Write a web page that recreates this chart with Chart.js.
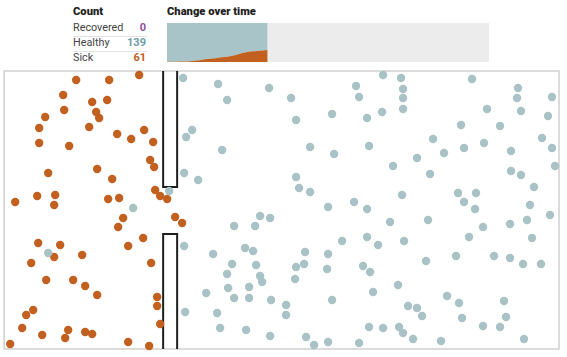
<!DOCTYPE html>
<html><head><meta charset="utf-8">
<script src="https://cdn.jsdelivr.net/npm/chart.js@4/dist/chart.umd.min.js"></script>
<style>
html,body{margin:0;padding:0;background:#fff;width:567px;height:357px;overflow:hidden;font-family:"Roboto","Noto Sans",sans-serif;}
.h{position:absolute;font-weight:900;font-size:11.2px;color:#222;}
.lab{position:absolute;left:73px;font-size:10.8px;color:#444;}
.num{position:absolute;right:421px;font-size:11px;font-weight:700;text-align:right;}
.sep{position:absolute;left:73px;width:74px;height:1px;background:#e2e2e2;}
#mini{position:absolute;left:167px;top:23px;width:322px;height:39px;}
#main{position:absolute;left:0px;top:66px;width:567px;height:291px;}
</style></head><body>
<div class="h" style="left:73px;top:5px;">Count</div>
<div class="h" style="left:167px;top:5px;">Change over time</div>
<div class="lab" style="top:21px;">Recovered</div>
<div class="lab" style="top:36px;">Healthy</div>
<div class="lab" style="top:51px;">Sick</div>
<div class="sep" style="top:36px;"></div>
<div class="sep" style="top:51px;"></div>
<div class="num" id="nRec" style="top:21px;color:#8e4e9e;"></div>
<div class="num" id="nHea" style="top:36px;color:#6b9ea7;"></div>
<div class="num" id="nSick" style="top:51px;color:#c1601c;"></div>
<div id="mini"><canvas id="c1"></canvas></div>
<div id="main"><canvas id="c2"></canvas></div>
<script>
// ---- data ----
const population = 200;
const timeMax = 320;
const timeSteps = [0,5,10,15,20,25,30,35,40,45,50,55,60,65,70,75,80,85,90,95,100];
const sickOverTime = [1,1,1,2,3,5,8,12,15,18,21,24,27,32,39,46,51,55,57,59,61];
const recoveredOverTime = [0,0,0,0,0,0,0,0,0,0,0,0,0,0,0,0,0,0,0,0,0];
const countRecovered = 0, countHealthy = 139, countSick = 61;

const sickX = [76,109,139,63,92,107,64,96,99,45,39,89,117,131,144,39,69,153,150,154,48,97,112,155,160,167,37,55,54,15,108,119,
  123,118,175,182,143,128,38,60,54,82,31,151,46,73,85,97,157,157,33,26,160,22,42,68,85,92,65,10,128,149];
const sickY = [80,80,75,95,102,100,110,112,118,117,128,127,134,139,130,143,146,142,160,167,173,169,179,190,196,199,196,195,205,202,199,198,
  218,227,217,223,238,246,243,245,257,255,263,263,280,280,286,295,297,306,310,315,324,328,335,330,332,334,338,344,342,346];
const healthyX = [183,192,186,184,198,169,133,48,184,185,
  218,227,269,291,356,359,296,332,367,222,310,334,369,296,299,310,328,354,367,
  260,270,234,255,245,253,213,305,328,342,367,232,256,296,304,327,363,370,227,260,262,295,228,249,206,234,249,271,332,286,286,217,220,246,270,306,314,328,359,369,
  383,401,403,403,403,382,472,518,517,552,521,487,548,461,500,433,484,464,444,417,511,542,552,393,430,511,521,555,534,402,458,476,464,475,530,
  390,428,483,510,527,550,469,532,378,404,426,456,494,510,523,541,398,373,447,459,504,408,417,422,462,506,383,399,403,413,441,483,500,524];
const healthyY = [78,130,137,173,180,191,208,253,246,312,
  84,100,88,98,86,97,120,114,118,150,147,154,146,177,188,192,207,202,209,
  216,218,226,226,248,251,254,252,254,241,237,264,265,267,264,269,266,272,274,276,282,279,288,287,293,298,298,300,300,305,315,313,328,330,336,337,345,342,343,327,
  75,78,89,98,109,112,79,88,98,97,111,109,116,125,126,139,143,148,153,158,151,138,148,166,174,171,175,166,187,195,193,193,202,209,205,
  222,220,227,224,220,215,237,238,245,241,261,256,256,258,264,264,285,292,296,303,301,306,308,316,318,317,328,327,333,339,341,326,327,339];
// wall outline (top segment open to frame top, bottom segment open to frame bottom)
const wallTopX = [163,163,177,177], wallTopY = [71,187,187,71];
const wallBotX = [163,163,177,177], wallBotY = [349,234,234,349];
const boxX = [4,559], boxY = [71,349];

document.getElementById('nRec').textContent = countRecovered;
document.getElementById('nHea').textContent = countHealthy;
document.getElementById('nSick').textContent = countSick;

const zip = (xs, ys) => xs.map((x,i)=>({x, y: ys[i]}));
const SICK='#c1601f', HEALTHY='#a8c2c6';

// ---- mini area chart ----
const bgPlugin = {
  id:'bg',
  beforeDatasetsDraw(chart){
    const {ctx, chartArea:a} = chart;
    ctx.save(); ctx.fillStyle='#ececec'; ctx.fillRect(a.left,a.top,a.right-a.left,a.bottom-a.top); ctx.restore();
  }
};
new Chart(document.getElementById('c1'), {
  type:'line',
  data:{ datasets:[
    {label:'Sick', data: timeSteps.map((t,i)=>({x:t,y:sickOverTime[i]})), fill:'origin', backgroundColor:SICK, borderWidth:0, pointRadius:0, tension:0.3, stack:'s'},
    {label:'Healthy', data: timeSteps.map((t,i)=>({x:t,y:population-sickOverTime[i]-recoveredOverTime[i]})), fill:'-1', backgroundColor:'#a9c4c8', borderWidth:0, pointRadius:0, tension:0.3, stack:'s'}
  ]},
  options:{
    responsive:true, maintainAspectRatio:false, animation:false,
    layout:{padding:0},
    plugins:{legend:{display:false}, tooltip:{enabled:false}},
    scales:{
      x:{type:'linear', min:0, max:timeMax, display:false},
      y:{min:0, max:population, stacked:true, display:false}
    }
  },
  plugins:[bgPlugin]
});

// ---- main scatter ----
const framePlugin = {
  id:'frame',
  beforeDatasetsDraw(chart){
    const {ctx, scales:{x,y}} = chart;
    const l=x.getPixelForValue(boxX[0]), r=x.getPixelForValue(boxX[1]);
    const t=y.getPixelForValue(boxY[0]), b=y.getPixelForValue(boxY[1]);
    ctx.save(); ctx.strokeStyle='#cfcfcf'; ctx.lineWidth=1.5; ctx.strokeRect(l,t,r-l,b-t); ctx.restore();
  }
};
new Chart(document.getElementById('c2'), {
  type:'scatter',
  data:{ datasets:[
    {label:'Healthy', data: zip(healthyX, healthyY), backgroundColor:HEALTHY, borderWidth:0, pointRadius:4.2, clip:false},
    {label:'Sick', data: zip(sickX, sickY), backgroundColor:SICK, borderWidth:0, pointRadius:4.2, clip:false},
    {type:'line', label:'wall1', data: zip(wallTopX, wallTopY), showLine:true, borderColor:'#1e1e1e', borderWidth:2, pointRadius:0, fill:false, clip:false, tension:0},
    {type:'line', label:'wall2', data: zip(wallBotX, wallBotY), showLine:true, borderColor:'#1e1e1e', borderWidth:2, pointRadius:0, fill:false, clip:false, tension:0}
  ]},
  options:{
    responsive:true, maintainAspectRatio:false, animation:false,
    layout:{padding:{left:4, right:8, top:5, bottom:8}},
    plugins:{legend:{display:false}, tooltip:{enabled:false}},
    scales:{
      x:{type:'linear', min:boxX[0], max:boxX[1], display:false},
      y:{type:'linear', min:boxY[0], max:boxY[1], reverse:true, display:false}
    }
  },
  plugins:[framePlugin]
});
</script>
</body></html>
